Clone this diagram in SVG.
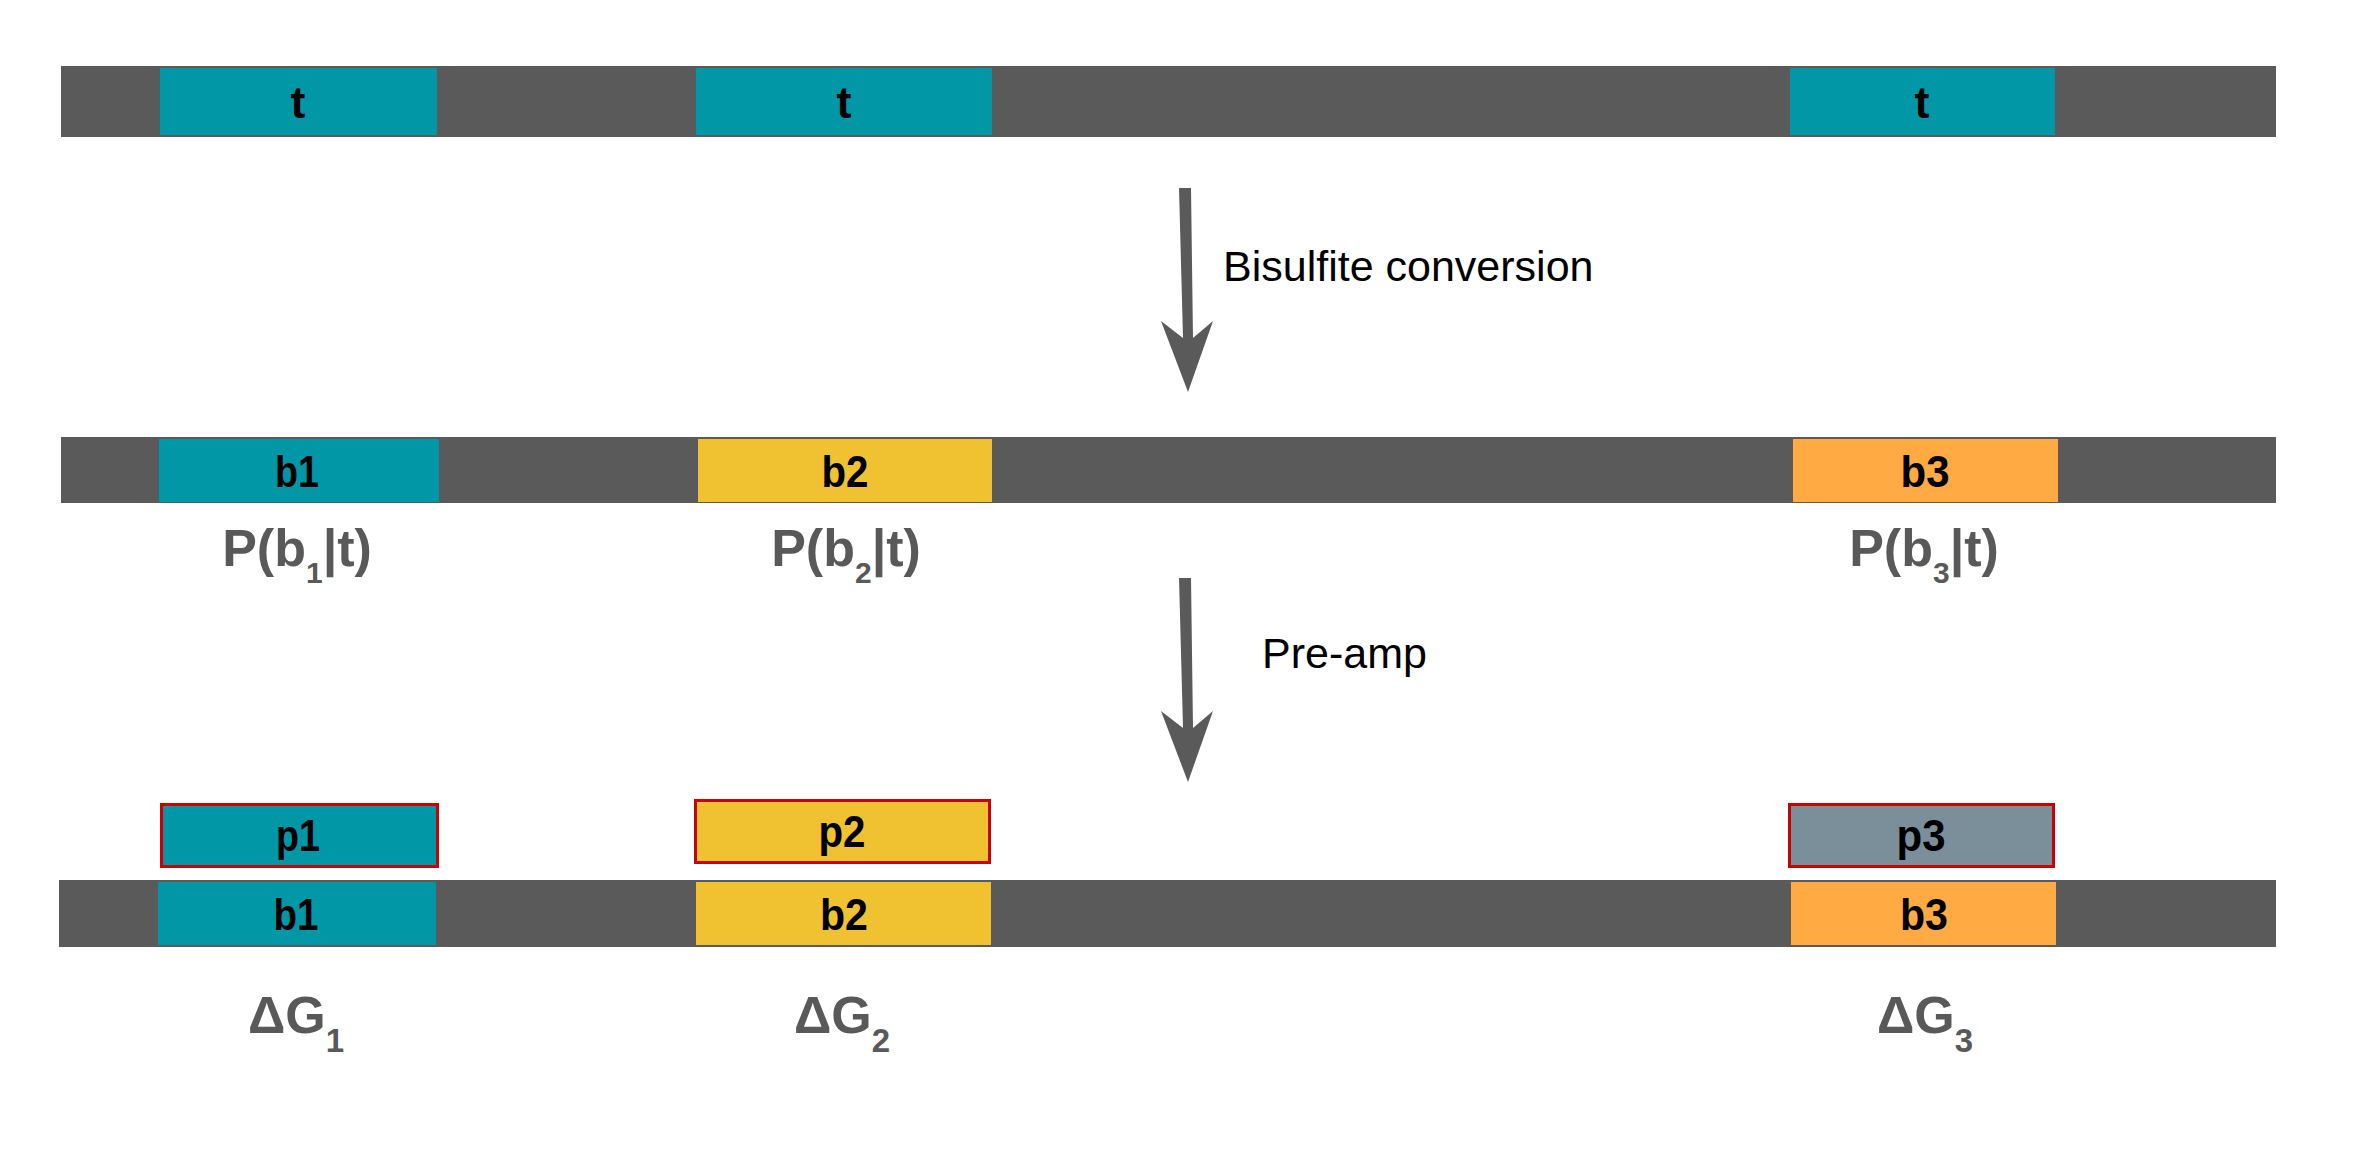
<svg xmlns="http://www.w3.org/2000/svg" width="2368" height="1156" viewBox="0 0 2368 1156">
<style>
.bar{fill:#5a5a5a}
.teal{fill:#0197a7}
.yel{fill:#f0c231}
.org{fill:#ffaa42}
.gry{fill:#7a8f99}
.pr{stroke:#cc0000;stroke-width:3}
.lbl{font-family:"Liberation Sans",Arial,sans-serif;font-weight:bold;font-size:45px;fill:#000;text-anchor:middle}
.big{font-family:"Liberation Sans",Arial,sans-serif;font-weight:bold;font-size:52px;fill:#595959;text-anchor:middle}
.step{font-family:"Liberation Sans",Arial,sans-serif;font-size:43px;fill:#000}
.arr{fill:#5a5a5a}
</style>
<rect width="2368" height="1156" fill="#fff"/>
<g id="strand1">
<rect class="bar" x="61" y="66" width="2215" height="71"/>
<g id="t1"><rect class="teal" x="160" y="68" width="277" height="67"/><text class="lbl" x="298" y="118" font-size="44">t</text></g>
<g id="t2"><rect class="teal" x="696" y="68" width="296" height="67"/><text class="lbl" x="844" y="118" font-size="44">t</text></g>
<g id="t3"><rect class="teal" x="1790" y="68" width="265" height="67"/><text class="lbl" x="1922" y="118" font-size="44">t</text></g>
</g>
<g id="strand2">
<rect class="bar" x="61" y="437" width="2215" height="66"/>
<g id="b1"><rect class="teal" x="159" y="439" width="280" height="63"/><text class="lbl" x="297" y="487" textLength="44" lengthAdjust="spacingAndGlyphs">b1</text></g>
<g id="b2"><rect class="yel" x="698" y="439" width="294" height="63"/><text class="lbl" x="845" y="487" textLength="47" lengthAdjust="spacingAndGlyphs">b2</text></g>
<g id="b3"><rect class="org" x="1793" y="439" width="265" height="63"/><text class="lbl" x="1925" y="487" textLength="49" lengthAdjust="spacingAndGlyphs">b3</text></g>
<text class="big" x="297" y="566">P(b<tspan font-size="30" dy="17">1</tspan><tspan dy="-17">|t)</tspan></text>
<text class="big" x="846" y="566">P(b<tspan font-size="30" dy="17">2</tspan><tspan dy="-17">|t)</tspan></text>
<text class="big" x="1924" y="566">P(b<tspan font-size="30" dy="17">3</tspan><tspan dy="-17">|t)</tspan></text>
</g>
<g id="strand3">
<rect class="bar" x="59" y="880" width="2217" height="67"/>
<g id="b1r"><rect class="teal" x="158" y="882" width="278" height="63"/><text class="lbl" x="296" y="930" textLength="45" lengthAdjust="spacingAndGlyphs">b1</text></g>
<g id="b2r"><rect class="yel" x="696" y="882" width="295" height="63"/><text class="lbl" x="844" y="930" textLength="48" lengthAdjust="spacingAndGlyphs">b2</text></g>
<g id="b3r"><rect class="org" x="1791" y="882" width="265" height="63"/><text class="lbl" x="1924" y="930" textLength="48" lengthAdjust="spacingAndGlyphs">b3</text></g>
</g>
<g id="p1"><rect class="teal pr" x="161.5" y="804.5" width="276" height="62"/><text class="lbl" x="298" y="851" textLength="44" lengthAdjust="spacingAndGlyphs">p1</text></g>
<g id="p2"><rect class="yel pr" x="695.5" y="800.5" width="294" height="62"/><text class="lbl" x="842" y="847" textLength="47" lengthAdjust="spacingAndGlyphs">p2</text></g>
<g id="p3"><rect class="gry pr" x="1789.5" y="804.5" width="264" height="62"/><text class="lbl" x="1921" y="851" textLength="49" lengthAdjust="spacingAndGlyphs">p3</text></g>
<g id="dg">
<text class="big" x="296" y="1033">ΔG<tspan font-size="33" dy="19">1</tspan></text>
<text class="big" x="842" y="1033">ΔG<tspan font-size="33" dy="19">2</tspan></text>
<text class="big" x="1925" y="1033">ΔG<tspan font-size="33" dy="19">3</tspan></text>
</g>
<g id="connectors">
<path class="arr" d="M1179,188 L1191,188 L1193,338 L1213,321 L1188,392 L1161,321 L1183,338 Z"/>
<path class="arr" d="M1179,578 L1191,578 L1193,728 L1213,711 L1188,782 L1161,711 L1183,728 Z"/>
<text class="step" x="1223" y="281">Bisulfite conversion</text>
<text class="step" x="1262" y="668">Pre-amp</text>
</g>
</svg>
